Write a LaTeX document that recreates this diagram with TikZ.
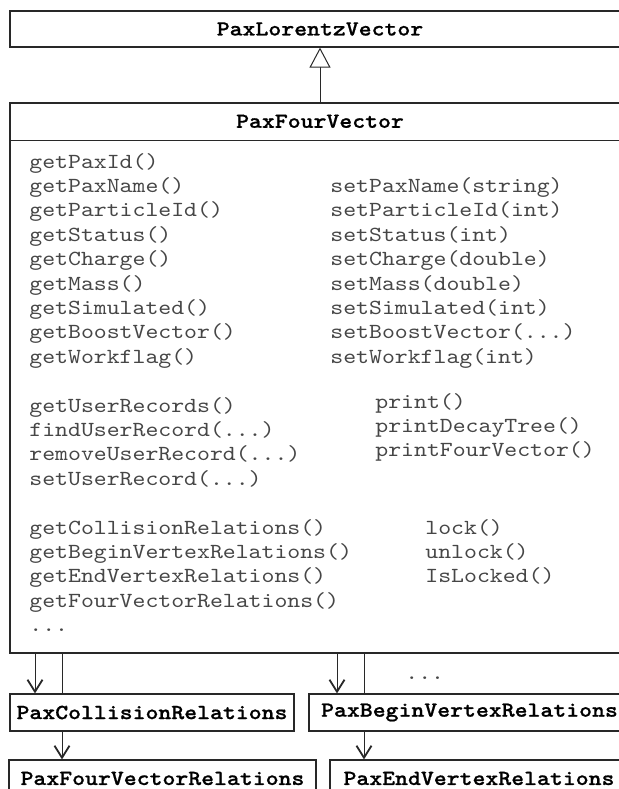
\documentclass[tikz,border=0pt]{standalone}
\usepackage{fontspec}
\setmonofont{lmmono10-regular.otf}[FakeStretch=1.143,BoldFont=lmmonolt10-bold.otf,BoldFeatures={FakeBold=0.8}]
\usetikzlibrary{arrows.meta,positioning,calc}
\definecolor{mytext}{RGB}{70,70,70}
\definecolor{myline}{RGB}{40,40,40}
\newcommand\ellip{...}

\begin{document}
\begin{tikzpicture}[x=0.5pt,y=-0.5pt,
        every node/.style={font=\ttfamily\fontsize{10.75}{12}\selectfont},
        classbox/.style={draw=myline,line width=0.6pt,rectangle,inner sep=0pt,
          font=\ttfamily\bfseries\fontsize{10.75}{12}\selectfont},
        title/.style={inner sep=0pt,font=\ttfamily\bfseries\fontsize{10.75}{12}\selectfont},
        method/.style={anchor=base west,inner sep=0pt,text=mytext},
        rel/.style={draw=myline,line width=0.5pt,-{Straight Barb[length=6pt,width=7.5pt,line width=0.9pt]}},
        assoc/.style={draw=myline,line width=0.5pt},
        inherit/.style={draw=myline,line width=0.5pt,-{Triangle[open,length=10pt,width=10.5pt,fill=white]}}
      ]
      \useasboundingbox (0,0) rectangle (619,789);
      \clip (0,0) rectangle (619,789);

      % the base class
      \node[classbox,minimum width=310pt,minimum height=18pt] (lorentz) at (320,29) {PaxLorentzVector};

      % the class PaxFourVector
      \node[classbox,minimum width=310pt,minimum height=275pt] (four) at (320,378) {};
      \node[title,minimum width=310pt,minimum height=18.5pt,anchor=north] (fourtitle) at (four.north) {PaxFourVector};
      \draw[myline,line width=0.6pt] (fourtitle.south west) -- (fourtitle.south east);

      % the getters and setters
      \foreach \m [count=\k from 0] in {getPaxId(),getPaxName(),getParticleId(),getStatus(),
          getCharge(),getMass(),getSimulated(),getBoostVector(),getWorkflag()}
        \node[method] (get\k) at (29,{168+24.4*\k}) {\m};
      \foreach \m [count=\k from 1] in {setPaxName(string),setParticleId(int),setStatus(int),
          setCharge(double),setMass(double),setSimulated(int),setBoostVector(\ellip),setWorkflag(int)}
        \node[method] (set\k) at (330,{168+24.4*\k}) {\m};

      % the user records and printing
      \foreach \m [count=\k from 10] in {getUserRecords(),findUserRecord(\ellip),
          removeUserRecord(\ellip),setUserRecord(\ellip)}
        \node[method] (rec\k) at (29,{168+24.4*\k}) {\m};
      \foreach \m [count=\k from 10] in {print(),printDecayTree(),printFourVector()}
        \node[method] (prn\k) at (375,{164+24.4*\k}) {\m};

      % the relations and locking
      \foreach \m [count=\k from 15] in {getCollisionRelations(),getBeginVertexRelations(),
          getEndVertexRelations(),getFourVectorRelations(),\ellip}
        \node[method] (rel\k) at (29,{168+24.4*\k}) {\m};
      \foreach \m [count=\k from 15] in {lock(),unlock(),IsLocked()}
        \node[method] (lck\k) at (425,{168+24.4*\k}) {\m};

      % the relation classes
      \node[classbox,minimum width=142pt,minimum height=18.5pt] (coll) at (152,712.5) {PaxCollisionRelations};
      \node[classbox,minimum width=153.5pt,minimum height=18.5pt] (fvr) at (162.5,778.5) {PaxFourVectorRelations};
      \node[classbox,minimum width=160.5pt,minimum height=18.5pt] (begin) at (469.5,712.5) {PaxBeginVertexRelations};
      \node[classbox,minimum width=149pt,minimum height=18.5pt] (end) at (479,778.5) {PaxEndVertexRelations};
      \node[method] (more) at (405,679) {\ellip};

      % the edges
      \coordinate (a1) at (35,0); \coordinate (l1) at (62,0);
      \coordinate (a2) at (337,0); \coordinate (l2) at (364,0);
      \draw[inherit] (four.north) -- (lorentz.south);
      \draw[rel] (a1 |- four.south) -- (a1 |- coll.north);
      \draw[assoc] (l1 |- four.south) -- (l1 |- coll.north);
      \draw[rel] (l1 |- coll.south) -- (l1 |- fvr.north);
      \draw[rel] (a2 |- four.south) -- (a2 |- begin.north);
      \draw[assoc] (l2 |- four.south) -- (l2 |- begin.north);
      \draw[rel] (l2 |- begin.south) -- (l2 |- end.north);
\end{tikzpicture}
\end{document}
